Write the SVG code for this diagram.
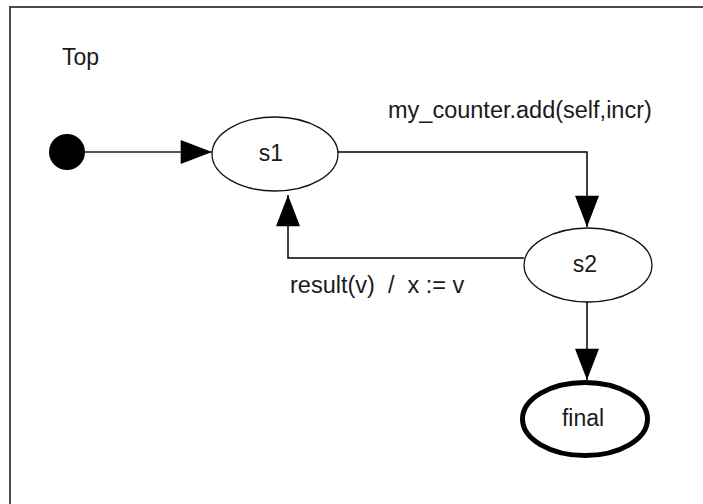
<svg xmlns="http://www.w3.org/2000/svg" width="703" height="504" viewBox="0 0 703 504">
  <style>
    .frame { fill: none; stroke: #4a4a4a; stroke-width: 2; }
    .state { fill: #ffffff; stroke: #111111; stroke-width: 1.3; }
    .final { fill: #ffffff; stroke: #000000; stroke-width: 5; }
    .edge { fill: none; stroke: #000000; stroke-width: 1.5; }
    .init-edge { fill: none; stroke: #555555; stroke-width: 2; }
    text { font-family: "Liberation Sans", Arial, Helvetica, sans-serif; font-size: 23px; fill: #1a1a1a; }
    .lbl { font-size: 23.5px; }
  </style>
  <defs>
    <marker id="arrow" markerUnits="userSpaceOnUse" markerWidth="32" markerHeight="24" viewBox="0 0 30 23" refX="30" refY="11.5" orient="auto">
      <path d="M0,0 L30,11.5 L0,23 Z" fill="#000000"/>
    </marker>
  </defs>

  <rect class="frame" x="10" y="7" width="720" height="520"/>

  <g id="top-label">
    <text x="62" y="65">Top</text>
  </g>

  <g id="initial">
    <circle cx="67" cy="152" r="18" fill="#000000"/>
  </g>

  <g id="s1">
    <ellipse class="state" cx="275" cy="154" rx="63" ry="37"/>
    <text x="271" y="161" text-anchor="middle">s1</text>
  </g>

  <g id="s2">
    <ellipse class="state" cx="588" cy="265" rx="64" ry="37"/>
    <text x="585" y="272" text-anchor="middle">s2</text>
  </g>

  <g id="final">
    <ellipse class="final" cx="585" cy="419" rx="62.5" ry="36.5"/>
    <text x="583" y="426" text-anchor="middle">final</text>
  </g>

  <g id="connectors">
    <path class="init-edge" d="M85,152 L212,152" marker-end="url(#arrow)"/>
    <path class="edge" d="M338,152 L587,152 L587,227" marker-end="url(#arrow)"/>
    <path class="edge" d="M524,258 L288,258 L288,195" marker-end="url(#arrow)"/>
    <path class="edge" d="M587,302 L587,380" marker-end="url(#arrow)"/>
    <text class="lbl" x="388" y="118">my_counter.add(self,incr)</text>
    <text class="lbl" x="290" y="293" xml:space="preserve">result(v)  /  x := v</text>
  </g>
</svg>
